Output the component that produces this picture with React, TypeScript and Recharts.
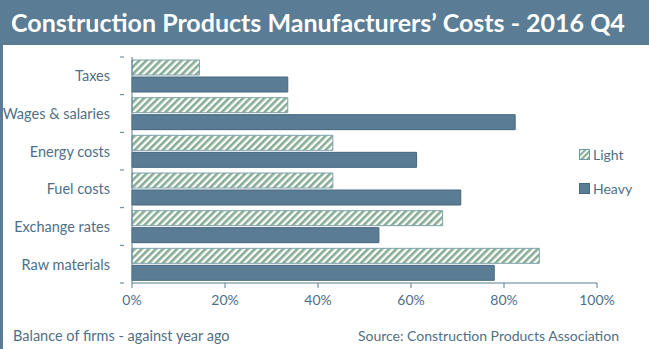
import { BarChart, Bar, XAxis, YAxis } from 'recharts';

const categories = ['Taxes', 'Wages & salaries', 'Energy costs', 'Fuel costs', 'Exchange rates', 'Raw materials'];
const lightValues = [14.5, 33.5, 43.2, 43.2, 66.8, 87.6];
const heavyValues = [33.5, 82.4, 61.2, 70.7, 53.1, 77.9];
const xTicks = [0, 20, 40, 60, 80, 100];

const data = categories.map((name, i) => ({
  name,
  light: lightValues[i],
  heavy: heavyValues[i],
}));

const BLUE = '#5a7c95';
const TEXT = '#4f6f87';
const FONT = 'Lato, "Open Sans", sans-serif';

const PLOT_TOP = 57;
const PLOT_BOTTOM = 283;
const BAND = (PLOT_BOTTOM - PLOT_TOP) / categories.length;

const CategoryTick = (props: any) => {
  const { x, y, payload, index } = props;
  return (
    <g>
      <text x={x - 14} y={y} textAnchor='end' dominantBaseline='central' fill={TEXT} fontSize={14.5} fontFamily={FONT}>
        {payload.value}
      </text>
      {index === 0 && <line x1={x - 4} x2={x} y1={y - BAND / 2} y2={y - BAND / 2} stroke={BLUE} />}
      <line x1={x - 4} x2={x} y1={y + BAND / 2} y2={y + BAND / 2} stroke={BLUE} />
    </g>
  );
};

const LegendItem = ({ label, hatched }: { label: string; hatched: boolean }) => (
  <div style={{ display: 'flex', alignItems: 'center', height: 20 }}>
    <svg width={11} height={11} style={{ marginRight: 3 }}>
      <rect x={0.5} y={0.5} width={10} height={10} fill={hatched ? 'url(#hatchLegend)' : BLUE} stroke={hatched ? '#6f98a6' : '#48697f'} />
    </svg>
    <span style={{ color: TEXT, fontSize: 14, fontFamily: FONT }}>{label}</span>
  </div>
);

export default function App() {
  return (
    <div style={{ position: 'relative', width: 649, height: 349, background: '#fff', overflow: 'hidden' }}>
      <style>{'body{margin:0}'}</style>
      <div
        style={{
          position: 'absolute',
          left: 0,
          top: 0,
          width: 649,
          height: 45,
          background: BLUE,
          color: '#fff',
          fontFamily: FONT,
          fontWeight: 700,
          fontSize: 25,
          lineHeight: '45px',
          paddingLeft: 11,
          boxSizing: 'border-box',
          whiteSpace: 'nowrap',
        }}
      >
        Construction Products Manufacturers’ Costs - 2016 Q4
      </div>
      <div style={{ position: 'absolute', left: 0, top: 45, width: 3, height: 304, background: BLUE }} />
      <div style={{ position: 'absolute', left: 0, top: 0 }}>
        <BarChart
          width={649}
          height={349}
          data={data}
          layout='vertical'
          margin={{ top: PLOT_TOP, right: 52, bottom: 349 - PLOT_BOTTOM - 34, left: 0 }}
          barSize={15}
          barGap={2}
        >
          <defs>
            <pattern id='hatch' width={5} height={5} patternUnits='userSpaceOnUse' patternTransform='rotate(45)'>
              <rect width={5} height={5} fill='#ffffff' />
              <rect width={2.6} height={5} fill='#86ac93' />
            </pattern>
            <pattern id='hatchLegend' width={4} height={4} patternUnits='userSpaceOnUse' patternTransform='rotate(45)'>
              <rect width={4} height={4} fill='#ffffff' />
              <rect width={2.2} height={4} fill='#86ac93' />
            </pattern>
          </defs>
          <XAxis
            type='number'
            domain={[0, 100]}
            ticks={xTicks}
            tickFormatter={(v) => `${v}%`}
            height={34}
            axisLine={{ stroke: BLUE }}
            tickLine={{ stroke: BLUE }}
            tickSize={5}
            tickMargin={7}
            tick={{ fill: TEXT, fontSize: 14, fontFamily: FONT }}
          />
          <YAxis
            type='category'
            dataKey='name'
            width={132}
            axisLine={{ stroke: BLUE }}
            tickLine={false}
            tick={<CategoryTick />}
          />
          <Bar dataKey='light' name='Light' fill='url(#hatch)' stroke='#7fa3ac' strokeWidth={1} isAnimationActive={false} />
          <Bar dataKey='heavy' name='Heavy' fill={BLUE} stroke='#46677e' strokeWidth={1} isAnimationActive={false} />
        </BarChart>
      </div>
      <div style={{ position: 'absolute', left: 579, top: 144 }}>
        <LegendItem label='Light' hatched />
        <div style={{ height: 14 }} />
        <LegendItem label='Heavy' hatched={false} />
      </div>
      <div style={{ position: 'absolute', left: 13, top: 327, color: TEXT, fontSize: 14.5, fontFamily: FONT }}>
        Balance of firms - against year ago
      </div>
      <div style={{ position: 'absolute', right: 30, top: 327, color: TEXT, fontSize: 14, fontFamily: FONT, whiteSpace: 'nowrap' }}>
        Source: Construction Products Association
      </div>
    </div>
  );
}
